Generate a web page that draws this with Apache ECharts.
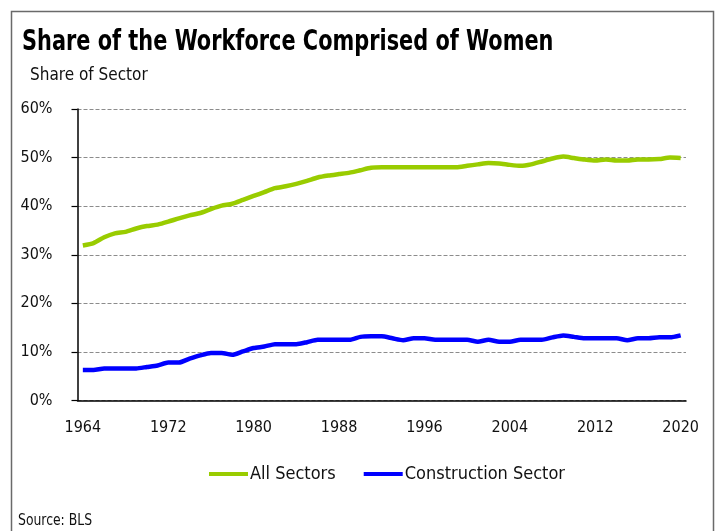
<!DOCTYPE html>
<html>
<head>
<meta charset="utf-8">
<script src="https://cdn.jsdelivr.net/npm/echarts@6/dist/echarts.min.js"></script>
<style>html,body{margin:0;padding:0;background:#fff}#c{width:715px;height:531px}</style>
</head>
<body>
<div id="c"></div>
<script>
const years = [];
for (let y = 1964; y <= 2020; y++) years.push(String(y));
const allSectors = [31.9,32.4,33.6,34.4,34.7,35.4,35.9,36.2,36.8,37.5,38.1,38.6,39.4,40.1,40.5,41.3,42.1,42.9,43.7,44.1,44.6,45.2,45.9,46.3,46.6,46.9,47.4,47.9,48.0,48.0,48.0,48.0,48.0,48.0,48.0,48.0,48.3,48.6,48.9,48.8,48.5,48.3,48.6,49.2,49.8,50.2,49.9,49.6,49.4,49.6,49.4,49.4,49.6,49.6,49.7,50.0,49.9];
const construction = [6.3,6.3,6.6,6.6,6.6,6.6,6.9,7.2,7.8,7.8,8.6,9.3,9.8,9.8,9.4,10.1,10.8,11.1,11.6,11.6,11.6,12.0,12.5,12.5,12.5,12.5,13.1,13.2,13.2,12.8,12.4,12.8,12.8,12.5,12.5,12.5,12.5,12.1,12.5,12.1,12.1,12.5,12.5,12.5,13.0,13.4,13.1,12.8,12.8,12.8,12.8,12.4,12.8,12.8,13.0,13.0,13.4];
const seriesNames = ['All Sectors', 'Construction Sector'];
const titleText = 'Share of the Workforce Comprised of Women';
const yAxisTitle = 'Share of Sector';
const sourceText = 'Source: BLS';

const font = '"DejaVu Sans Condensed", "Liberation Sans Narrow", sans-serif';
const chart = echarts.init(document.getElementById('c'), null, {renderer: 'canvas'});
chart.setOption({
  backgroundColor: '#fff',
  animation: false,
  graphic: [
    {type: 'rect', left: 9, top: 9, shape: {width: 702, height: 600}, style: {fill: 'none', stroke: '#6a6a6a', lineWidth: 1.5}, silent: true},
    {type: 'text', x: 22, y: 28, scaleX: 0.80, style: {text: titleText, font: 'bold 29px ' + font, fill: '#000', textVerticalAlign: 'top'}, silent: true},
    {type: 'text', x: 30, y: 67, scaleX: 1.0, style: {text: yAxisTitle, font: '17px ' + font, fill: '#111', textVerticalAlign: 'top'}, silent: true},
    {type: 'text', x: 18, y: 514, scaleX: 0.92, style: {text: sourceText, font: '15px ' + font, fill: '#111', textVerticalAlign: 'top'}, silent: true}
  ],
  legend: {
    data: seriesNames,
    bottom: 43,
    left: 204,
    itemWidth: 39,
    itemHeight: 4,
    itemGap: 28,
    icon: 'rect',
    textStyle: {fontFamily: font, fontSize: 18, color: '#111', padding: [0, 0, 0, -3]}
  },
  grid: {left: 77.5, right: 29, top: 109, bottom: 130.5, containLabel: false},
  xAxis: {
    type: 'category',
    data: years,
    boundaryGap: true,
    axisLine: {lineStyle: {color: '#000', width: 1.5}},
    axisTick: {interval: 0, length: 6, lineStyle: {color: '#000', width: 1.2}},
    axisLabel: {interval: 7, margin: 19, fontFamily: font, fontSize: 16, color: '#111'},
    splitLine: {show: false}
  },
  yAxis: {
    type: 'value',
    min: 0, max: 60, interval: 10,
    axisLine: {show: true, lineStyle: {color: '#000', width: 1.5}},
    axisTick: {show: true, length: 6, lineStyle: {color: '#000', width: 1.2}},
    axisLabel: {formatter: '{value}%', margin: 25, fontFamily: font, fontSize: 16, color: '#111'},
    splitLine: {show: true, lineStyle: {color: '#8c8c8c', type: [4, 2], width: 1}}
  },
  series: [
    {name: seriesNames[0], type: 'line', data: allSectors, showSymbol: false, symbol: 'none', smooth: 0.2, lineStyle: {color: '#99CC00', width: 4.5}, itemStyle: {color: '#99CC00'}},
    {name: seriesNames[1], type: 'line', data: construction, showSymbol: false, symbol: 'none', smooth: 0.2, lineStyle: {color: '#0000FF', width: 4.5}, itemStyle: {color: '#0000FF'}}
  ]
});
</script>
</body>
</html>
